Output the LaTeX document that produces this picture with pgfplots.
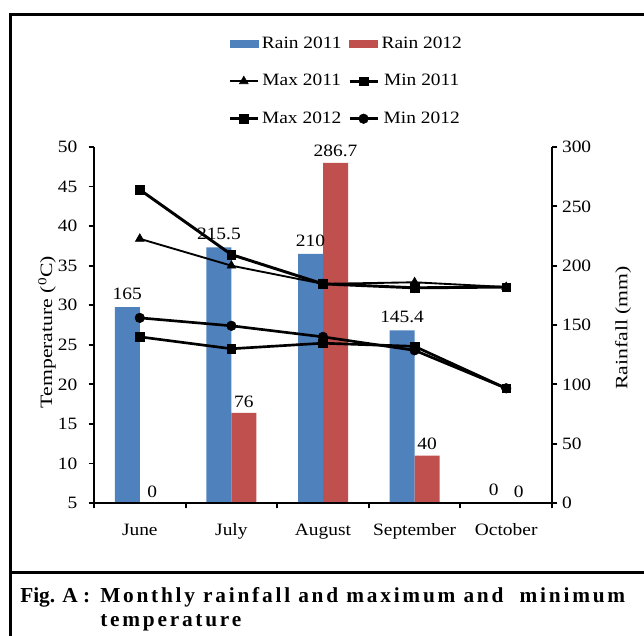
\documentclass[border=0pt]{standalone}
\usepackage{fontspec}
\setmainfont{Liberation Serif}[FakeStretch=1.12]
\newfontfamily\capfont{Liberation Serif}[LetterSpace=13]
\newfontfamily\figfont{Liberation Serif}
\usepackage{pgfplots}
\pgfplotsset{compat=1.18}
\definecolor{barblue}{RGB}{79,129,189}
\definecolor{barred}{RGB}{192,80,77}
\newcommand{\chfont}{\fontsize{13}{15}\selectfont}
\begin{document}
\begin{tikzpicture}
\path[use as bounding box] (0,0) rectangle (483pt,-477pt);
% frame
\draw[line width=2.25pt] (7.5pt,-477pt) -- (7.5pt,-10.5pt) -- (483pt,-10.5pt);
\draw[line width=2.25pt] (7.5pt,-429pt) -- (483pt,-429pt);
% rainfall axis (bars)
\begin{axis}[
  at={(70.5pt,-377.25pt)}, anchor=south west,
  scale only axis, width=343.5pt, height=267pt,
  xmin=-0.5, xmax=4.5, ymin=0, ymax=300,
  axis x line*=bottom, axis y line*=right,
  axis line style={-, line width=1.6pt},
  xtick={-0.5,0.5,...,4.5}, xticklabels={},
  ytick={0,50,...,300},
  tick align=outside, major tick length=4pt,
  tick style={line width=1.4pt, black},
  tick label style={font=\chfont},
  /pgf/number format/assume math mode=true,
  ybar=0pt, bar width=18.75pt,
  nodes near coords, point meta=explicit symbolic,
  every node near coord/.append style={font=\chfont, yshift=2pt},
]
\addplot[fill=barblue, draw=none] coordinates {(0,165)[165] (1,215.5)[215.5] (2,210)[210] (3,145.4)[145.4] (4,0)[0]};
\addplot[fill=barred, draw=none, every node near coord/.append style={fill=white, inner sep=2pt}] coordinates {(0,0)[0] (1,76)[76] (2,286.7)[286.7] (3,40)[40] (4,0)[0]};
\end{axis}
% temperature axis (lines)
\begin{axis}[
  at={(70.5pt,-377.25pt)}, anchor=south west,
  scale only axis, width=343.5pt, height=267pt,
  xmin=-0.5, xmax=4.5, ymin=5, ymax=50,
  axis x line*=bottom, axis y line*=left,
  axis line style={-, line width=1.6pt},
  xtick={-0.5,0.5,...,4.5}, x tick label as interval,
  xticklabels={June,July,August,September,October},
  ytick={5,10,...,50},
  tick align=outside, major tick length=4pt,
  tick style={line width=1.4pt, black},
  tick label style={font=\chfont},
  xticklabel style={yshift=-8pt},
  yticklabel style={xshift=-5pt},
  /pgf/number format/assume math mode=true,
  legend image code/.code={\draw[mark repeat=2,mark phase=2,#1] plot coordinates {(0pt,0pt) (10.5pt,0pt) (21pt,0pt)};},
  legend style={at={(axis description cs:0.284,1.325)}, anchor=north west, draw=none, fill=none,
    font=\chfont, row sep=14pt, /tikz/every even column/.append style={column sep=3pt}},
  legend columns=2,
]
\addlegendimage{legend image code/.code={\fill[barblue] (0pt,-2.6pt) rectangle (21pt,2.6pt);}}
\addlegendentry{Rain 2011}
\addlegendimage{legend image code/.code={\fill[barred] (0pt,-2.6pt) rectangle (21pt,2.6pt);}}
\addlegendentry{Rain 2012}
\addplot[black, line width=1.4pt, mark=triangle*, mark size=3.8pt, mark options={solid, line width=0.4pt}] coordinates {(0,38.4) (1,35.0) (2,32.7) (3,32.9) (4,32.3)};
\addlegendentry{Max 2011}
\addplot[black, line width=2pt, mark=square*, mark size=3.2pt, mark options={solid, line width=0.4pt}] coordinates {(0,26.0) (1,24.5) (2,25.2) (3,24.8) (4,19.5)};
\addlegendentry{Min 2011}
\addplot[black, line width=2.2pt, mark=square*, mark size=3.2pt, mark options={solid, line width=0.4pt}] coordinates {(0,44.6) (1,36.4) (2,32.7) (3,32.2) (4,32.3)};
\addlegendentry{Max 2012}
\addplot[black, line width=2pt, mark=*, mark size=3.6pt, mark options={solid, line width=0.4pt}] coordinates {(0,28.4) (1,27.4) (2,26.0) (3,24.3) (4,19.5)};
\addlegendentry{Min 2012}
\end{axis}
% axis titles
\node[rotate=90, font=\chfont] at (35.25pt,-249pt) {\scalebox{1.12}[1]{Temperature (\textsuperscript{0}C)}};
\node[rotate=90, font=\chfont] at (467.25pt,-246pt) {\scalebox{1.12}[1]{Rainfall (mm)}};
% caption
\node[anchor=base west, font=\figfont\bfseries\fontsize{16}{18}\selectfont, inner sep=0pt] at (15pt,-451.5pt) {Fig. A :};
\node[anchor=base west, font=\capfont\bfseries\fontsize{16}{18}\selectfont, inner sep=0pt] at (75pt,-451.5pt) {Monthly rainfall and maximum and\ \ minimum};
\node[anchor=base west, font=\capfont\bfseries\fontsize{16}{18}\selectfont, inner sep=0pt] at (75pt,-469.5pt) {temperature};
\end{tikzpicture}
\end{document}
